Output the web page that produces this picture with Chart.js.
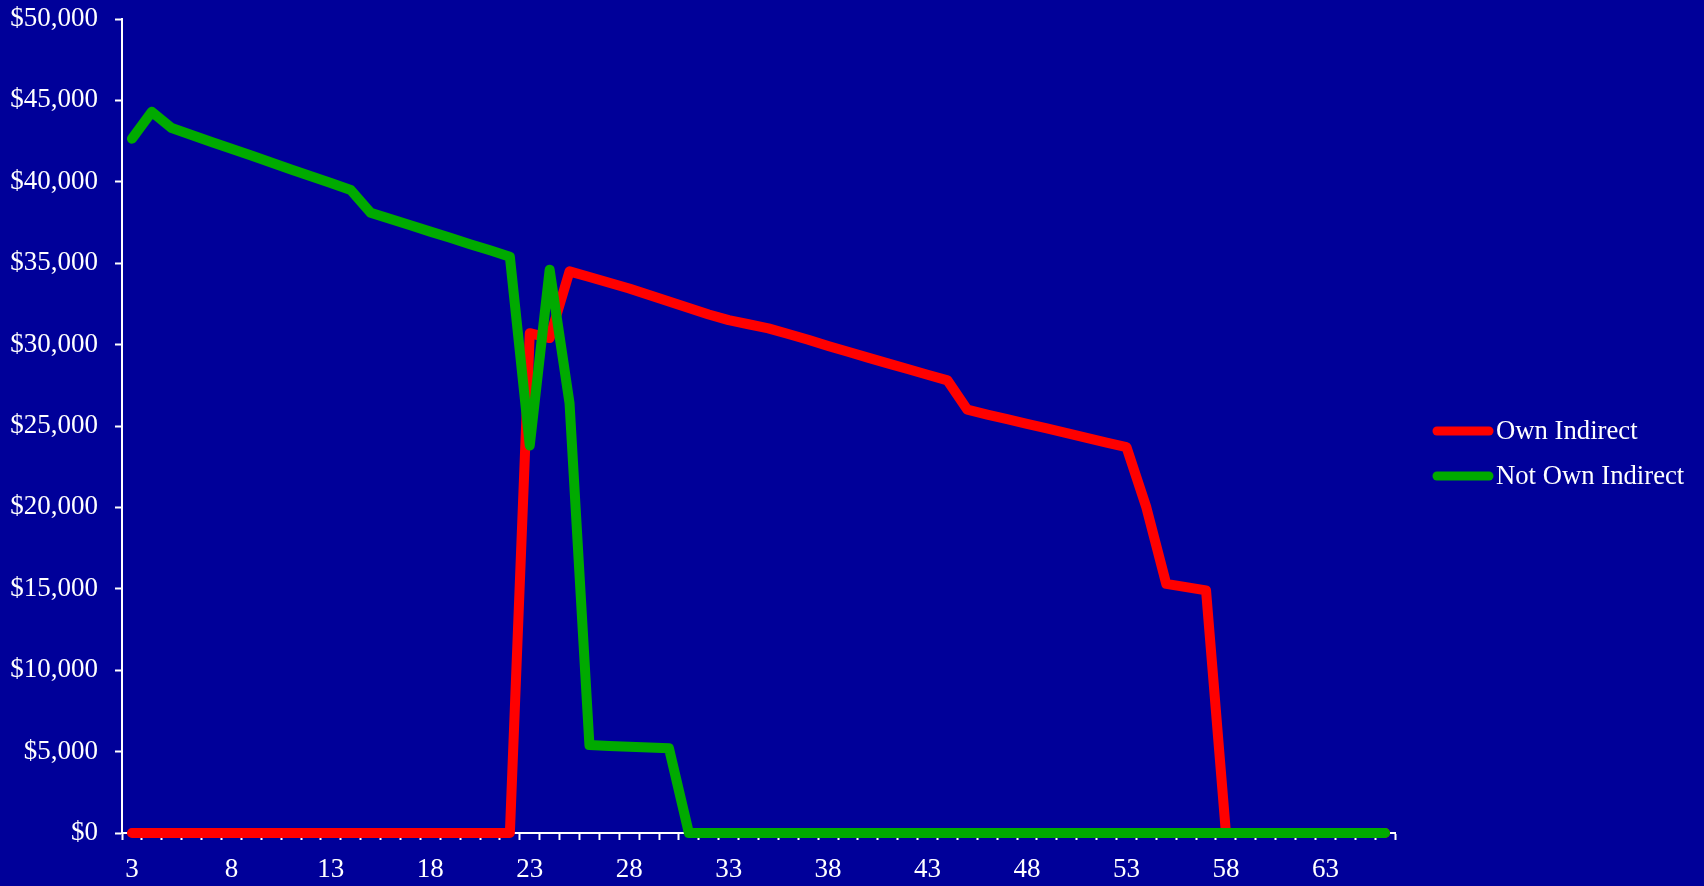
<!DOCTYPE html>
<html>
<head>
<meta charset="utf-8">
<script src="https://cdn.jsdelivr.net/npm/chart.js@4/dist/chart.umd.min.js"></script>
<style>
  html, body { margin: 0; padding: 0; background: #000099; }
  #wrap { width: 1704px; height: 886px; position: relative; }
</style>
</head>
<body>
<div id="wrap"><canvas id="chart"></canvas></div>
<script>
// categories 3 .. 66
const ages = [
  3, 4, 5, 6, 7, 8, 9, 10, 11, 12, 13, 14, 15, 16, 17, 18, 19, 20, 21, 22,
  23, 24, 25, 26, 27, 28, 29, 30, 31, 32, 33, 34, 35, 36, 37, 38, 39, 40, 41, 42,
  43, 44, 45, 46, 47, 48, 49, 50, 51, 52, 53, 54, 55, 56, 57, 58, 59, 60, 61, 62,
  63, 64, 65, 66
];

const ownIndirect = [
  0, 0, 0, 0, 0, 0, 0, 0, 0, 0, 0, 0, 0, 0, 0, 0, 0, 0, 0, 0,
  30700, 30400, 34500, 34150, 33800, 33450, 33050, 32650, 32250, 31850,
  31500, 31250, 31000, 30650, 30300, 29920, 29560, 29200, 28850, 28500,
  28150, 27800, 26000, 25700, 25420, 25130, 24850, 24560, 24270, 23980,
  23700, 20000, 15300, 15100, 14900, 0, 0, 0, 0, 0,
  0, 0, 0, 0
];

const notOwnIndirect = [
  42650, 44300, 43300, 42880, 42450, 42030, 41610, 41190, 40760, 40340,
  39920, 39500, 38100, 37710, 37330, 36940, 36560, 36170, 35790, 35400,
  23800, 34600, 26400, 5400, 5350, 5300, 5250, 5200, 0, 0,
  0, 0, 0, 0, 0, 0, 0, 0, 0, 0,
  0, 0, 0, 0, 0, 0, 0, 0, 0, 0,
  0, 0, 0, 0, 0, 0, 0, 0, 0, 0,
  0, 0, 0, 0
];

const seriesNames = ['Own Indirect', 'Not Own Indirect'];
const seriesColors = ['#ff0000', '#00aa00'];

const FAMILY = '"Liberation Serif", "Times New Roman", serif';
const TICK_FONT = { family: FAMILY, size: 27 };
const LEGEND_SIZE = 26.7;
const WHITE = '#ffffff';

// legend drawn by hand: line marker + label, to the right of the plot
const sideLegend = {
  id: 'sideLegend',
  afterDraw(chart) {
    const ctx = chart.ctx;
    const area = chart.chartArea;
    const x0 = area.right + 42;
    const x1 = area.right + 94;
    let y = 431;
    ctx.save();
    ctx.font = LEGEND_SIZE + 'px ' + FAMILY;
    ctx.textBaseline = 'middle';
    ctx.textAlign = 'left';
    chart.data.datasets.forEach(ds => {
      ctx.strokeStyle = ds.borderColor;
      ctx.lineWidth = 9;
      ctx.lineCap = 'round';
      ctx.beginPath();
      ctx.moveTo(x0, y);
      ctx.lineTo(x1, y);
      ctx.stroke();
      ctx.fillStyle = WHITE;
      ctx.fillText(ds.label, area.right + 101, y + 1);
      y += 45;
    });
    ctx.restore();
  }
};

new Chart(document.getElementById('chart'), {
  type: 'line',
  data: {
    labels: ages,
    datasets: [
      {
        label: seriesNames[0],
        data: ownIndirect,
        borderColor: seriesColors[0],
        backgroundColor: seriesColors[0],
        order: 1,
      },
      {
        label: seriesNames[1],
        data: notOwnIndirect,
        borderColor: seriesColors[1],
        backgroundColor: seriesColors[1],
        order: 0,
      },
    ],
  },
  options: {
    responsive: true,
    maintainAspectRatio: false,
    animation: false,
    layout: { padding: { top: 19, right: 309, left: 0, bottom: 0 } },
    elements: {
      line: { borderWidth: 10, tension: 0, borderCapStyle: 'round', borderJoinStyle: 'round' },
      point: { radius: 0, hoverRadius: 0 },
    },
    datasets: { line: { clip: false } },
    plugins: {
      legend: { display: false },
      tooltip: { enabled: false },
    },
    scales: {
      x: {
        offset: true,
        grid: {
          offset: true,
          drawOnChartArea: false,
          drawTicks: true,
          tickLength: 7,
          tickWidth: 2,
          tickColor: WHITE,
        },
        border: { display: true, color: WHITE, width: 2 },
        ticks: {
          autoSkip: false,
          maxRotation: 0,
          minRotation: 0,
          padding: 14,
          color: WHITE,
          font: TICK_FONT,
          callback(val, i) { return i % 5 === 0 ? this.getLabelForValue(val) : ''; },
        },
        afterFit(scale) {
          scale.height = 53;
          scale.paddingLeft = 0;
          scale.paddingRight = 0;
        },
      },
      y: {
        min: 0,
        max: 50000,
        grid: {
          drawOnChartArea: false,
          drawTicks: true,
          tickLength: 7,
          tickWidth: 2,
          tickColor: WHITE,
        },
        border: { display: true, color: WHITE, width: 2 },
        ticks: {
          stepSize: 5000,
          padding: 17,
          color: WHITE,
          font: TICK_FONT,
          callback: v => '$' + v.toLocaleString('en-US'),
        },
        afterFit(scale) {
          scale.width = 122;
          scale.paddingTop = 0;
          scale.paddingBottom = 0;
        },
      },
    },
  },
  plugins: [sideLegend],
});
</script>
</body>
</html>
